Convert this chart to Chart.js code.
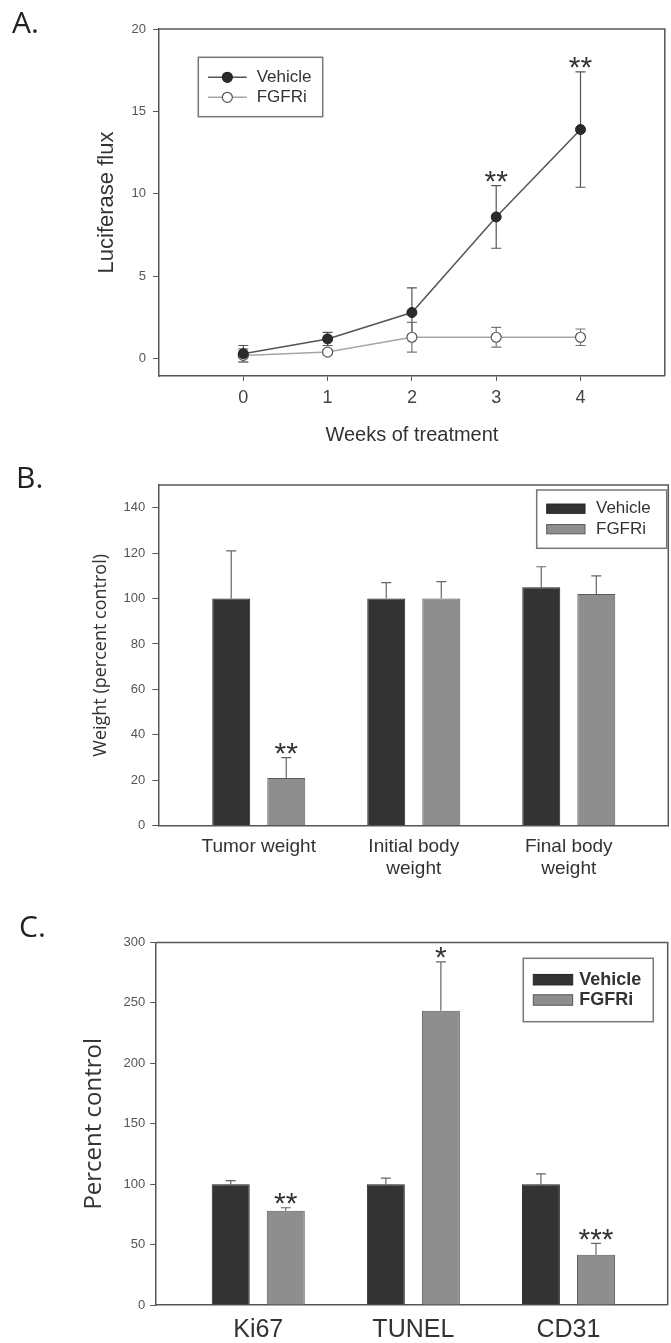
<!DOCTYPE html>
<html>
<head>
<meta charset="utf-8">
<script src="https://cdn.jsdelivr.net/npm/chart.js@4.4.1/dist/chart.umd.min.js"></script>
<style>
  html, body { margin: 0; padding: 0; background: #fff; }
  body { width: 671px; height: 1343px; position: relative; overflow: hidden; }
  .panel { position: absolute; left: 0; width: 671px; }
</style>
</head>
<body>
<div class="panel" style="top:0;height:460px"><canvas id="chartA"></canvas></div>
<div class="panel" style="top:460px;height:440px"><canvas id="chartB"></canvas></div>
<div class="panel" style="top:900px;height:443px"><canvas id="chartC"></canvas></div>
<script>
// Panel A - luciferase flux per week
const weeks = [0, 1, 2, 3, 4];
const vehicleFlux = [0.3, 1.2, 2.8, 8.6, 13.9];
const vehicleFluxErr = [0.5, 0.4, 1.5, 1.9, 3.5];
const fgfriFlux = [0.2, 0.4, 1.3, 1.3, 1.3];
const fgfriFluxErr = [0.4, 0.15, 0.9, 0.6, 0.5];
const fluxStars = ["", "", "", "**", "**"];
const fluxTicks = [0, 5, 10, 15, 20];

// Panel B - weights (percent control)
const weightLabels = ["Tumor weight", ["Initial body", "weight"], ["Final body", "weight"]];
const vehicleWeight = [100, 100, 105];
const vehicleWeightErr = [21, 7, 9];
const fgfriWeight = [21, 100, 102];
const fgfriWeightErr = [9, 7.5, 8];
const weightStars = ["**", "", ""];
const weightTicks = [0, 20, 40, 60, 80, 100, 120, 140];

// Panel C - histology markers (percent control)
const markerLabels = ["Ki67", "TUNEL", "CD31"];
const vehicleMarker = [100, 100, 100];
const vehicleMarkerErr = [3, 5, 8.5];
const fgfriMarker = [78, 243.5, 41.5];
const fgfriMarkerErr = [2.5, 40.5, 9.5];
const markerStars = ["**", "*", "***"];
const markerTicks = [0, 50, 100, 150, 200, 250, 300];

Chart.defaults.font.family = "'Liberation Sans', Arial, sans-serif";
Chart.defaults.color = "#444";

const AXIS_COL = "#555";

// error bars (+ optional lower half) and significance stars
const errorBarPlugin = {
    id: "errorBars",
    beforeDatasetsDraw(chart) {
        const ctx = chart.ctx;
        const yScale = chart.scales.y;
        chart.data.datasets.forEach((ds, di) => {
            if (!ds.errorBars) return;
            const meta = chart.getDatasetMeta(di);
            ctx.save();
            ctx.strokeStyle = ds.errorColor;
            ctx.lineWidth = 1.2;
            meta.data.forEach((el, i) => {
                const v = ds.data[i].y, e = ds.errorBars[i];
                const top = yScale.getPixelForValue(v + e);
                const bot = yScale.getPixelForValue(ds.errorBoth ? v - e : v);
                ctx.beginPath();
                ctx.moveTo(el.x, top); ctx.lineTo(el.x, bot);
                ctx.moveTo(el.x - 5, top); ctx.lineTo(el.x + 5, top);
                if (ds.errorBoth) { ctx.moveTo(el.x - 5, bot); ctx.lineTo(el.x + 5, bot); }
                ctx.stroke();
            });
            ctx.restore();
        });
    },
    afterDatasetsDraw(chart) {
        const ctx = chart.ctx;
        const yScale = chart.scales.y;
        chart.data.datasets.forEach((ds, di) => {
            if (!ds.stars) return;
            const meta = chart.getDatasetMeta(di);
            ctx.save();
            ctx.font = "30px 'Liberation Sans', Arial, sans-serif";
            ctx.fillStyle = "#333";
            ctx.textAlign = "center";
            ctx.textBaseline = "alphabetic";
            meta.data.forEach((el, i) => {
                if (!ds.stars[i]) return;
                const top = yScale.getPixelForValue(ds.data[i].y + ds.errorBars[i]);
                const centre = top - 12;
                ctx.fillText(ds.stars[i], el.x, centre + 0.58 * 30);
            });
            ctx.restore();
        });
    }
};

// box round the plot area
const framePlugin = {
    id: "frame",
    beforeDatasetsDraw(chart) {
        const {ctx, chartArea: a} = chart;
        ctx.save();
        ctx.strokeStyle = AXIS_COL;
        ctx.lineWidth = 1.5;
        ctx.beginPath();
        ctx.moveTo(a.left, a.top); ctx.lineTo(a.right, a.top); ctx.lineTo(a.right, a.bottom);
        ctx.stroke();
        ctx.restore();
    }
};

function panelLabel(text, x, y) {
    return {
        id: "panelLabel",
        afterDraw(chart) {
            const ctx = chart.ctx;
            ctx.save();
            ctx.font = "30px 'Open Sans', sans-serif";
            ctx.fillStyle = "#222";
            ctx.textBaseline = "alphabetic";
            ctx.fillText(text, x, y);
            ctx.restore();
        }
    };
}

function boxLegend(cfg) {
    return {
        id: "boxLegend",
        afterDraw(chart) {
            const ctx = chart.ctx;
            ctx.save();
            ctx.strokeStyle = "#777";
            ctx.lineWidth = 1.5;
            ctx.strokeRect(cfg.x, cfg.y, cfg.w, cfg.h);
            ctx.font = cfg.font;
            ctx.textBaseline = "middle";
            chart.data.datasets.forEach((ds, i) => {
                const cy = cfg.rows[i];
                if (cfg.kind === "line") {
                    ctx.strokeStyle = ds.borderColor;
                    ctx.lineWidth = 1.5;
                    ctx.beginPath();
                    ctx.moveTo(cfg.sx, cy); ctx.lineTo(cfg.sx + cfg.sw, cy);
                    ctx.stroke();
                    ctx.beginPath();
                    ctx.arc(cfg.sx + cfg.sw / 2, cy, 5, 0, Math.PI * 2);
                    ctx.fillStyle = ds.pointBackgroundColor;
                    ctx.fill();
                    ctx.strokeStyle = ds.pointBorderColor;
                    ctx.lineWidth = 1.2;
                    ctx.stroke();
                } else {
                    ctx.fillStyle = ds.backgroundColor;
                    ctx.fillRect(cfg.sx, cy - cfg.sh / 2, cfg.sw, cfg.sh);
                    ctx.strokeStyle = ds.borderColor;
                    ctx.lineWidth = 1;
                    ctx.strokeRect(cfg.sx, cy - cfg.sh / 2, cfg.sw, cfg.sh);
                }
                ctx.fillStyle = "#333";
                ctx.fillText(ds.label, cfg.tx, cy);
            });
            ctx.restore();
        }
    };
}

function onlyTicks(list) {
    return function (axis) { axis.ticks = list.map(v => ({value: v})); };
}

// ---------- A ----------
new Chart(document.getElementById("chartA"), {
    type: "line",
    data: {
        datasets: [
            {
                label: "Vehicle",
                data: weeks.map((w, i) => ({x: w, y: vehicleFlux[i]})),
                borderColor: "#555",
                borderWidth: 1.5,
                pointRadius: 5,
                pointBackgroundColor: "#2b2b2b",
                pointBorderColor: "#222",
                pointBorderWidth: 1,
                errorBars: vehicleFluxErr,
                errorBoth: true,
                errorColor: "#555",
                stars: fluxStars
            },
            {
                label: "FGFRi",
                data: weeks.map((w, i) => ({x: w, y: fgfriFlux[i]})),
                borderColor: "#a5a5a5",
                borderWidth: 1.5,
                pointRadius: 5,
                pointBackgroundColor: "#fff",
                pointBorderColor: "#555",
                pointBorderWidth: 1.2,
                errorBars: fgfriFluxErr,
                errorBoth: true,
                errorColor: "#777"
            }
        ]
    },
    options: {
        responsive: true,
        maintainAspectRatio: false,
        animation: false,
        layout: {padding: {top: 29, right: 2, left: 0, bottom: 0}},
        plugins: {legend: {display: false}, tooltip: {enabled: false}},
        scales: {
            x: {
                type: "linear",
                min: -1, max: 5,
                afterBuildTicks: onlyTicks(weeks),
                afterFit(s) { s.height = 84; },
                grid: {drawOnChartArea: false, tickLength: 5, color: AXIS_COL},
                border: {display: true, color: AXIS_COL, width: 1.5},
                ticks: {font: {size: 18}, color: "#444", padding: 6.5},
                title: {display: true, text: "Weeks of treatment", font: {size: 20}, color: "#333", padding: {top: 0, bottom: 13}}
            },
            y: {
                min: -1.05, max: 20,
                afterBuildTicks: onlyTicks(fluxTicks),
                afterFit(s) { s.width = 159; },
                grid: {drawOnChartArea: false, tickLength: 6, color: AXIS_COL},
                border: {display: true, color: AXIS_COL, width: 1.5},
                ticks: {font: {size: 13}, color: "#555", padding: 7},
                title: {display: true, text: "Luciferase flux", font: {size: 22}, color: "#333", padding: {top: 94, bottom: 0}}
            }
        }
    },
    plugins: [framePlugin, errorBarPlugin, panelLabel("A.", 12, 33),
        boxLegend({kind: "line", x: 198.3, y: 57.3, w: 124.4, h: 59.4, sx: 208, sw: 38.7,
            rows: [77.3, 97.3], tx: 256.7, font: "17px 'Liberation Sans', Arial, sans-serif"})]
});

// ---------- bar panels ----------
function barChart(id, opts) {
    return new Chart(document.getElementById(id), {
        type: "bar",
        data: {
            datasets: [
                {
                    label: "Vehicle",
                    data: opts.vehicle.map((v, i) => ({x: i, y: v})),
                    backgroundColor: "#333",
                    borderColor: "#222",
                    borderWidth: 1,
                    errorBars: opts.vehicleErr,
                    errorColor: "#666"
                },
                {
                    label: "FGFRi",
                    data: opts.fgfri.map((v, i) => ({x: i, y: v})),
                    backgroundColor: "#8e8e8e",
                    borderColor: "#5a5a5a",
                    borderWidth: 1,
                    errorBars: opts.fgfriErr,
                    errorColor: "#666",
                    stars: opts.stars
                }
            ]
        },
        options: {
            responsive: true,
            maintainAspectRatio: false,
            animation: false,
            categoryPercentage: 0.71,
            barPercentage: 0.69,
            layout: {padding: opts.padding},
            plugins: {legend: {display: false}, tooltip: {enabled: false}},
            scales: {
                x: {
                    type: "linear",
                    offset: false,
                    min: opts.xMin, max: opts.xMax,
                    afterBuildTicks: onlyTicks([0, 1, 2]),
                    afterFit(s) { s.height = opts.xHeight; },
                    grid: {drawOnChartArea: false, drawTicks: false, offset: false},
                    border: {display: true, color: AXIS_COL, width: 1.5},
                    ticks: {
                        font: opts.xFont, color: "#333", padding: opts.xPad,
                        callback: v => opts.labels[v]
                    }
                },
                y: {
                    min: 0, max: opts.yMax,
                    afterBuildTicks: onlyTicks(opts.yTicks),
                    afterFit(s) { s.width = opts.yWidth; },
                    grid: {drawOnChartArea: false, tickLength: 6, color: AXIS_COL},
                    border: {display: true, color: AXIS_COL, width: 1.5},
                    ticks: {font: {size: 13}, color: "#555", padding: opts.yPad},
                    title: {display: true, text: opts.yTitle, color: "#333",
                        font: {family: "'Open Sans', sans-serif", size: opts.yTitleSize},
                        padding: {top: opts.yTitlePad, bottom: 0}}
                }
            }
        },
        plugins: [framePlugin, errorBarPlugin, panelLabel(opts.panel, opts.panelX, opts.panelY), boxLegend(opts.legend)]
    });
}

barChart("chartB", {
    labels: weightLabels,
    vehicle: vehicleWeight, vehicleErr: vehicleWeightErr,
    fgfri: fgfriWeight, fgfriErr: fgfriWeightErr, stars: weightStars,
    yMax: 150, yTicks: weightTicks,
    xMin: -0.648, xMax: 2.642,
    padding: {top: 25, right: 2.7, left: 0, bottom: 0},
    xHeight: 74.3, xFont: {size: 19, lineHeight: 22 / 19}, xPad: 10.3,
    yWidth: 158.3, yPad: 7,
    yTitle: "Weight (percent control)", yTitleSize: 18, yTitlePad: 90,
    panel: "B.", panelX: 16, panelY: 28,
    legend: {kind: "bar", x: 536.7, y: 30, w: 130, h: 58.3, sx: 546.7, sw: 38.3, sh: 9.3,
        rows: [48.7, 69.2], tx: 596, font: "17px 'Liberation Sans', Arial, sans-serif"}
});

barChart("chartC", {
    labels: markerLabels,
    vehicle: vehicleMarker, vehicleErr: vehicleMarkerErr,
    fgfri: fgfriMarker, fgfriErr: fgfriMarkerErr, stars: markerStars,
    yMax: 300, yTicks: markerTicks,
    xMin: -0.658, xMax: 2.640,
    padding: {top: 42.5, right: 3.3, left: 0, bottom: 0},
    xHeight: 38, xFont: {size: 25}, xPad: 10,
    yWidth: 156.2, yPad: 5,
    yTitle: "Percent control", yTitleSize: 24, yTitlePad: 79.6,
    panel: "C.", panelX: 19, panelY: 37,
    legend: {kind: "bar", x: 523.3, y: 58.3, w: 130, h: 63.4, sx: 533.3, sw: 39.4, sh: 10.5,
        rows: [79.7, 100], tx: 579.3, font: "bold 18px 'Liberation Sans', Arial, sans-serif"}
});
</script>
</body>
</html>
